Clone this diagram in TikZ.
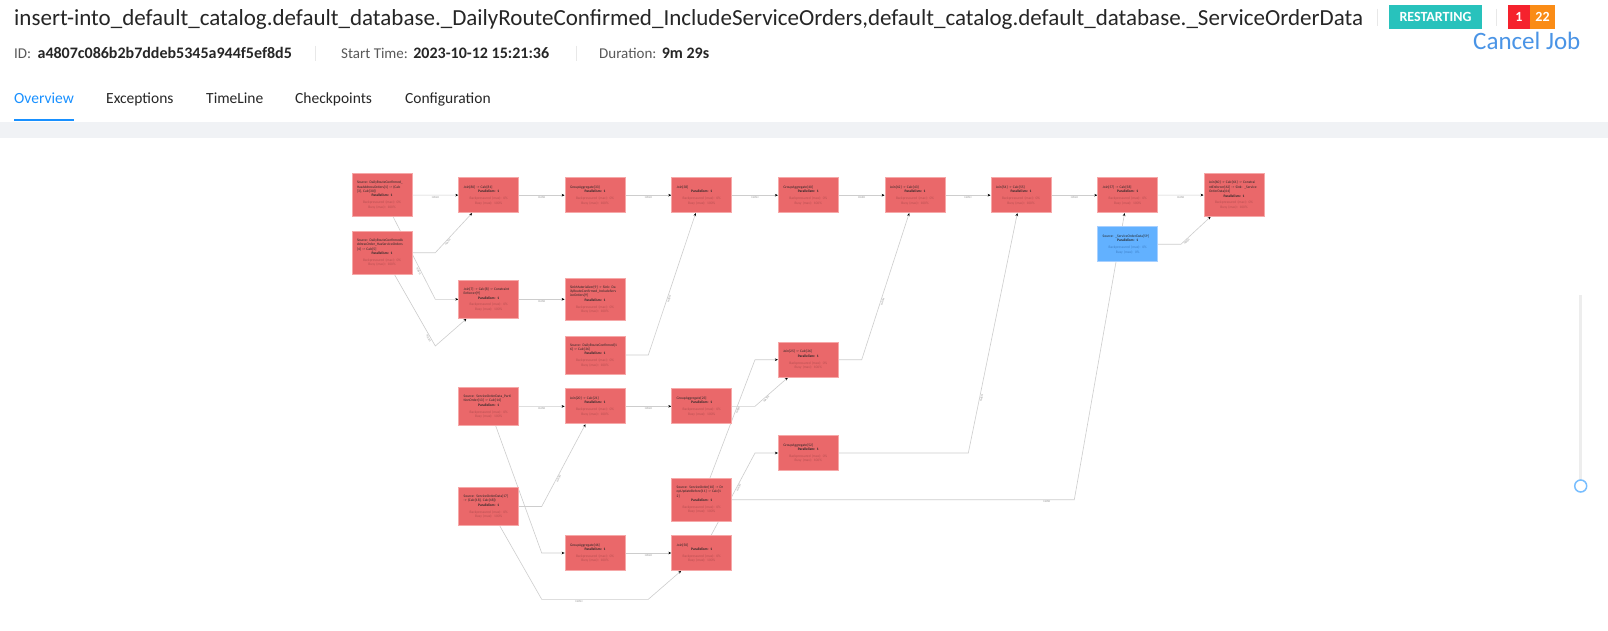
\documentclass[tikz,border=0pt]{standalone}
\usepackage{fontspec}
\setmainfont{Carlito}
\usepackage{graphicx}
\usetikzlibrary{arrows.meta,backgrounds}

\definecolor{opred}{RGB}{234,104,106}
\definecolor{opline}{RGB}{246,168,168}
\definecolor{opblue}{RGB}{98,177,255}
\definecolor{oplineb}{RGB}{168,208,255}
\definecolor{subred}{RGB}{184,80,82}
\definecolor{subblue}{RGB}{62,128,200}
\definecolor{edgegray}{RGB}{205,205,205}
\definecolor{lblgray}{RGB}{150,150,150}
\definecolor{antblue}{RGB}{24,144,255}
\definecolor{linkblue}{RGB}{74,148,230}
\definecolor{tagteal}{RGB}{40,194,188}
\definecolor{tagred}{RGB}{245,34,45}
\definecolor{tagorange}{RGB}{250,140,22}
\definecolor{dark}{RGB}{38,38,38}
\definecolor{mid}{RGB}{89,89,89}
\definecolor{sepgray}{RGB}{232,232,232}
\definecolor{bandgray}{RGB}{240,242,245}
\definecolor{knob}{RGB}{120,190,255}

% operator box text: title, parallelism, metrics
\newcommand{\opinfo}[3][subred]{{\raggedright #2\par}\textbf{Parallelism: 1}\par\vspace{2.4pt}{\color{#1}Backpressured (max): 0\%\par Busy (max): #3\par}}

\tikzset{
  op/.style={draw=opline, fill=opred, line width=0.8pt, text width=50pt, inner xsep=5pt, inner ysep=7.5pt, minimum height=35pt, align=center, font=\fontsize{3.6}{4.4}\selectfont, text=black!85},
  opsrc/.style={op, draw=oplineb, fill=opblue},
  edge/.style={draw=edgegray, line width=0.6pt, -{Stealth[length=3pt,width=2.6pt,color=black]}},
  lbl/.style={font=\fontsize{3}{3}\selectfont, text=lblgray, inner sep=0.8pt},
  meta/.style={anchor=base west, inner sep=0pt, text=mid, font=\fontsize{15}{18}\selectfont},
  metaval/.style={meta, text=dark, font=\fontsize{16}{18}\selectfont\bfseries},
  tab/.style={anchor=base west, inner sep=0pt, text=dark, font=\fontsize{15.5}{18}\selectfont},
  sepline/.style={draw=sepgray, line width=1pt},
  tag/.style={inner sep=0pt, minimum height=24pt, text=white, font=\fontsize{14}{16}\selectfont\bfseries}
}

\begin{document}
\begin{tikzpicture}[x=1pt,y=-1pt]
\useasboundingbox (0,0) rectangle (1608,631);
\begin{pgfonlayer}{background}
\fill[white] (0,0) rectangle (1608,631);
\fill[bandgray] (0,122) rectangle (1608,138);
\end{pgfonlayer}

% header
\node[anchor=base west, inner sep=0pt, text=dark] (title) at (14,26) {\resizebox{1349pt}{!}{\fontsize{23}{28}\selectfont insert-into\_default\_catalog.default\_database.\_DailyRouteConfirmed\_IncludeServiceOrders,default\_catalog.default\_database.\_ServiceOrderData}};
\draw[sepline] (1377,9) -- (1377,26);
\node[tag, fill=tagteal, minimum width=93pt] (state) at (1435.5,17) {RESTARTING};
\draw[sepline] (1496,9) -- (1496,26);
\node[tag, fill=tagred, minimum width=22pt] (failed) at (1519,17) {1};
\node[tag, fill=tagorange, minimum width=25pt] (running) at (1542.5,17) {22};
\node[anchor=base west, inner sep=0pt, text=linkblue, font=\fontsize{25}{28}\selectfont] (cancel) at (1473,50) {Cancel Job};

\node[meta] (idlbl) at (14,58.3) {ID:};
\node[metaval] (idval) at ([xshift=6pt]idlbl.base east) {a4807c086b2b7ddeb5345a944f5ef8d5};
\draw[sepline] (315,46) -- (315,61);
\node[meta] (startlbl) at (341,58.3) {Start Time:};
\node[metaval] (startval) at ([xshift=5pt]startlbl.base east) {2023-10-12 15:21:36};
\draw[sepline] (576,46) -- (576,61);
\node[meta] (durlbl) at (599,58.3) {Duration:};
\node[metaval] (durval) at ([xshift=5pt]durlbl.base east) {9m 29s};

\node[tab, text=antblue] (tabover) at (14,104) {Overview};
\node[tab] (tabexc) at (106,104) {Exceptions};
\node[tab] (tabtime) at (206,104) {TimeLine};
\node[tab] (tabchk) at (295,104) {Checkpoints};
\node[tab] (tabconf) at (405,104) {Configuration};
\fill[antblue] (14,119.5) rectangle (74,121.5);

% zoom slider
\draw[draw=sepgray!80, line width=3pt] (1580.7,295) -- (1580.7,480);
\draw[draw=knob, line width=1.5pt, fill=white] (1580.7,486) circle (6);

% job graph
\node[op] (src1) at (382,195) {\opinfo{Source: DailyRouteConfirmed\_\\HasAddressOrders[1] -> (Calc\\{}[3], Calc[30])}{100\%}};
\node[op] (src2) at (382,252.7) {\opinfo{Source: DailyRouteConfirmedA\\ddressOrder\_HasServiceOrders\\{}[4] -> Calc[5]}{100\%}};
\node[op] (join80) at (488.7,195.2) {\opinfo{Join[80] -> Calc[81]}{100\%}};
\node[op] (join7) at (488.7,299.3) {\opinfo{Join[7] -> Calc[8] -> Constraint\\Enforcer[9]}{100\%}};
\node[op] (src13) at (488.7,406.5) {\opinfo{Source: ServiceOrderData\_Parti\\tionOrder[13] -> Calc[14]}{100\%}};
\node[op] (src17) at (488.7,506.5) {\opinfo{Source: ServiceOrderData[17]\\-> (Calc[18], Calc[48])}{100\%}};
\node[op] (agg33) at (595,195.2) {\opinfo{GroupAggregate[33]}{100\%}};
\node[op] (sink9) at (595,299.3) {\opinfo{SinkMaterializer[9] -> Sink: Da\\ilyRouteConfirmed\_IncludeServ\\iceOrders[9]}{100\%}};
\node[op] (src16) at (595,355) {\opinfo{Source: DailyRouteConfirmed[1\\6] -> Calc[36]}{100\%}};
\node[op] (join20) at (595,406.3) {\opinfo{Join[20] -> Calc[21]}{100\%}};
\node[op] (agg46) at (595,553) {\opinfo{GroupAggregate[46]}{100\%}};
\node[op] (join38) at (701.7,195.2) {\opinfo{Join[38]}{100\%}};
\node[op] (agg23) at (701.7,406.3) {\opinfo{GroupAggregate[23]}{100\%}};
\node[op] (src10) at (701.7,499.7) {\opinfo{Source: ServiceOrder[10] -> Dr\\opUpdateBefore[11] -> Calc[1\\2]}{100\%}};
\node[op] (join50) at (701.7,553) {\opinfo{Join[50]}{100\%}};
\node[op] (agg40) at (808.3,195.2) {\opinfo{GroupAggregate[40]}{100\%}};
\node[op] (join25) at (808.3,359.7) {\opinfo{Join[25] -> Calc[26]}{100\%}};
\node[op] (agg52) at (808.3,453) {\opinfo{GroupAggregate[52]}{100\%}};
\node[op] (join42) at (915,195.2) {\opinfo{Join[42] -> Calc[43]}{100\%}};
\node[op] (join54) at (1021,195.2) {\opinfo{Join[54] -> Calc[55]}{100\%}};
\node[op] (join57) at (1127.7,195.2) {\opinfo{Join[57] -> Calc[58]}{100\%}};
\node[opsrc] (src59) at (1127.7,244.2) {\opinfo[subblue]{Source: \_ServiceOrderData[59]}{0\%}};
\node[op] (join60) at (1234,195) {\opinfo{Join[60] -> Calc[61] -> Constrai\\ntEnforcer[62] -> Sink: \_Service\\OrderData[64]}{100\%}};

% bend columns between the ranks
\coordinate (c1) at (435.3,0);
\coordinate (c2) at (541.7,0);
\coordinate (c3) at (648.3,0);
\coordinate (c4) at (755,0);
\coordinate (c5) at (861.7,0);
\coordinate (c6) at (968.3,0);
\coordinate (c7) at (1074.3,0);
\coordinate (c8) at (1181,0);
\coordinate (dip) at (0,346);
\coordinate (low) at (0,599.3);

\begin{pgfonlayer}{background}
\draw[edge] (src1) -- node[lbl,below]{HASH} (join80);
\draw[edge] (src2) -- (c1 |- src2) -- node[lbl,sloped,below,pos=0.3]{HASH} (join80);
\draw[edge] (src1) -- node[lbl,sloped,below,pos=0.65]{HASH} (c1 |- join7) -- (join7);
\draw[edge] (src2) -- node[lbl,sloped,below,pos=0.88]{HASH} (c1 |- dip) -- (join7);
\draw[edge] (join80) -- node[lbl,below]{HASH} (agg33);
\draw[edge] (join7) -- node[lbl,below]{HASH} (sink9);
\draw[edge] (agg33) -- node[lbl,below]{HASH} (join38);
\draw[edge] (src16) -- (c3 |- src16) -- node[lbl,sloped,below,pos=0.4]{HASH} (join38);
\draw[edge] (join38) -- node[lbl,below]{HASH} (agg40);
\draw[edge] (agg40) -- node[lbl,below]{HASH} (join42);
\draw[edge] (join25) -- (c5 |- join25) -- node[lbl,sloped,below,pos=0.4]{HASH} (join42);
\draw[edge] (join42) -- node[lbl,below]{HASH} (join54);
\draw[edge] (agg52) -- (c6 |- agg52) -- node[lbl,sloped,below,pos=0.23]{HASH} (join54);
\draw[edge] (join54) -- node[lbl,below]{HASH} (join57);
\draw[edge] (src10) -- node[lbl,below,pos=0.92]{HASH} (c7 |- src10) -- (join57);
\draw[edge] (join57) -- node[lbl,below]{HASH} (join60);
\draw[edge] (src59) -- (c8 |- src59) -- node[lbl,sloped,below,pos=0.15]{HASH} (join60);
\draw[edge] (src13) -- node[lbl,below]{HASH} (join20);
\draw[edge] (src13) -- (c2 |- agg46) -- (agg46);
\draw[edge] (src17) -- (c2 |- src17) -- node[lbl,sloped,below,pos=0.35]{HASH} (join20);
\draw[edge] (src17) -- (c2 |- low) -- node[lbl,below,pos=0.35]{HASH} (c3 |- low) -- (join50);
\draw[edge] (join20) -- node[lbl,below]{HASH} (agg23);
\draw[edge] (agg46) -- node[lbl,below]{HASH} (join50);
\draw[edge] (agg23) -- (c4 |- agg23) -- node[lbl,sloped,below,pos=0.3]{HASH} (join25);
\draw[edge] (src10) -- node[lbl,sloped,below,pos=0.58]{HASH} (c4 |- join25) -- (join25);
\draw[edge] (join50) -- node[lbl,sloped,below,pos=0.59]{HASH} (c4 |- agg52) -- (agg52);
\end{pgfonlayer}
\end{tikzpicture}
\end{document}
